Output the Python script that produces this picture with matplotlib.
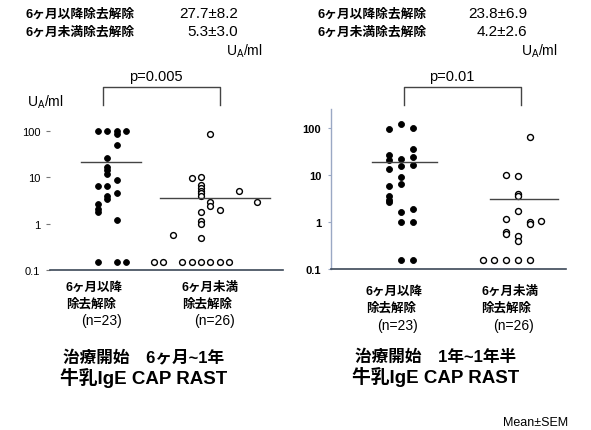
import matplotlib
matplotlib.use("Agg")
import matplotlib.pyplot as plt
from matplotlib.lines import Line2D

plt.rcParams['font.family'] = ['Liberation Sans', 'Noto Sans CJK JP', 'DejaVu Sans']

# ---------------- data ----------------
header_labels = ["6ヶ月以降除去解除", "6ヶ月未満除去解除"]
left_header_values = ["27.7±8.2", "5.3±3.0"]
right_header_values = ["23.8±6.9", "4.2±2.6"]
unit_label = "U$_{\\mathregular{A}}$/ml"
ytick_vals = [0.1, 1, 10, 100]
ytick_labels = ["0.1", "1", "10", "100"]
group_labels = ["6ヶ月以降\n除去解除", "6ヶ月未満\n除去解除"]
group_n = ["(n=23)", "(n=26)"]
left_p = "p=0.005"
right_p = "p=0.01"
left_title = ["治療開始　6ヶ月~1年", "牛乳IgE CAP RAST"]
right_title = ["治療開始　1年~1年半", "牛乳IgE CAP RAST"]
footnote = "Mean±SEM"

# left panel (6 months - 1 year)
left_filled_vals = [100, 100, 100, 100, 85, 49, 26.5, 16.5, 14, 12, 8.8, 6.5, 6.5,
                    4.5, 4.0, 3.4, 2.6, 2.1, 1.75, 1.2, 0.15, 0.15, 0.15]
left_filled_cols = [0, 1, 2, 3, 2, 2, 1, 1, 1, 1, 2, 0, 1,
                    2, 1, 1, 0, 0, 0, 2, 0, 2, 3]
left_open_vals = [84, 9.4, 10, 6.7, 5.8, 5.0, 4.5, 4.0, 5.1, 2.95, 2.4, 2.0, 2.95,
                  1.75, 1.15, 1.0, 0.57, 0.5,
                  0.15, 0.15, 0.15, 0.15, 0.15, 0.15, 0.15, 0.15]
left_open_cols = [6, 4, 5, 5, 5, 5, 5, 5, 9, 6, 6, 7, 11,
                  5, 5, 5, 2, 5,
                  0, 1, 3, 4, 5, 6, 7, 8]
left_means = [21, 3.5]

# right panel (1 year - 1.5 years)
right_filled_vals = [95, 27, 21, 13.3, 5.9, 3.5, 3.0, 2.6,
                     120, 22, 15.4, 8.9, 6.5, 1.6, 1.0, 0.155,
                     100, 35, 24, 16, 1.9, 1.0, 0.155]
right_filled_cols = [0, 0, 0, 0, 0, 0, 0, 0,
                     1, 1, 1, 1, 1, 1, 1, 1,
                     2, 2, 2, 2, 2, 2, 2]
right_open_vals = [63, 10, 9.4, 4.0, 3.5, 1.7, 1.15, 1.0, 0.9, 1.07, 0.62, 0.55, 0.51, 0.40,
                   0.155, 0.155, 0.155, 0.155, 0.155]
right_open_cols = [4, 2, 3, 3, 3, 3, 2, 4, 4, 5, 2, 2, 3, 3,
                   0, 1, 2, 3, 4]
right_means = [19, 3.1]

# ---------------- layout (pixels) ----------------
W, H = 591, 431
fig = plt.figure(figsize=(W / 100, H / 100), dpi=100)
fig.patch.set_facecolor('white')


def fx(p):
    return p / W


def fy(p):
    return 1 - p / H


def panel(x0, x1, y_bottom, decade_px, spine_left, tick_bold):
    ax = fig.add_axes([fx(x0), fy(y_bottom), (x1 - x0) / W, 3.4 * decade_px / H])
    ax.set_yscale('log')
    ax.set_ylim(0.1, 10 ** 2.4)
    ax.set_xlim(x0, x1)
    ax.set_xticks([])
    ax.set_yticks(ytick_vals)
    ax.set_yticklabels(ytick_labels, fontsize=8, fontweight='bold' if tick_bold else 'normal')
    ax.yaxis.set_minor_locator(matplotlib.ticker.NullLocator())
    for s in ['top', 'right']:
        ax.spines[s].set_visible(False)
    ax.spines['bottom'].set_color('#3c4858')
    ax.spines['bottom'].set_linewidth(1.2)
    if spine_left:
        ax.spines['left'].set_color('#9aa8c4')
        ax.spines['left'].set_linewidth(1.0)
        ax.tick_params(axis='y', length=2, width=0.8, color='#9aa8c4', pad=5)
    else:
        ax.spines['left'].set_visible(False)
        ax.tick_params(axis='y', length=3, width=0.8, color='#777777', pad=4)
    ax.patch.set_alpha(0)
    return ax


def draw_points(ax, vals, cols, base, w, filled, ms):
    xs = [base + c * w for c in cols]
    if filled:
        ax.plot(xs, vals, 'o', ms=ms, mfc='black', mec='black', mew=0.6, ls='none', clip_on=False)
    else:
        ax.plot(xs, vals, 'o', ms=ms, mfc='white', mec='black', mew=1.0, ls='none', clip_on=False)


def hline(ax, val, xa, xb):
    ax.plot([xa, xb], [val, val], color='#444444', lw=1.0)


def fig_line(xs, ys, **kw):
    fig.add_artist(Line2D([fx(x) for x in xs], [fy(y) for y in ys],
                          transform=fig.transFigure, **kw))


# ----- left panel -----
axL = panel(50, 283, 271, 46.4, False, False)
draw_points(axL, left_filled_vals, left_filled_cols, 98, 9.4, True, 4.2)
draw_points(axL, left_open_vals, left_open_cols, 154, 9.4, False, 4.2)
hline(axL, left_means[0], 81, 141)
hline(axL, left_means[1], 160, 270)

# ----- right panel -----
axR = panel(331, 566, 270, 47, True, True)
draw_points(axR, right_filled_vals, right_filled_cols, 389, 11.8, True, 4.3)
draw_points(axR, right_open_vals, right_open_cols, 482.7, 11.7, False, 4.3)
hline(axR, right_means[0], 372, 437)
hline(axR, right_means[1], 490, 558)

# ----- p brackets -----
fig_line([103, 103, 220, 220], [106, 88, 88, 106], color='#444444', lw=1.0)
fig.text(fx(156), fy(77), left_p, fontsize=10.5, ha='center', va='center')
fig_line([404, 404, 521, 521], [106, 88, 88, 106], color='#444444', lw=1.0)
fig.text(fx(452), fy(77), right_p, fontsize=10.5, ha='center', va='center')

# unit on left axis
fig.text(fx(27), fy(102), unit_label, fontsize=10, ha='left', va='center')

# ----- headers -----
hfont = dict(fontsize=9.2, fontweight='bold', va='center')
for i, yy in enumerate([14, 32]):
    fig.text(fx(26), fy(yy), header_labels[i], ha='left', **hfont)
    fig.text(fx(238), fy(yy), left_header_values[i], fontsize=11, ha='right', va='center')
    fig.text(fx(317), fy(yy), header_labels[i], ha='left', **hfont)
    fig.text(fx(527), fy(yy), right_header_values[i], fontsize=11, ha='right', va='center')
fig.text(fx(263), fy(51), unit_label, fontsize=10, ha='right', va='center')
fig.text(fx(558), fy(51), unit_label, fontsize=10, ha='right', va='center')

# ----- group labels -----
lab = dict(fontsize=9, fontweight='bold', va='top', ha='left', linespacing=1.45)
fig.text(fx(66), fy(282), group_labels[0], **lab)
fig.text(fx(182), fy(282), group_labels[1], **lab)
fig.text(fx(81), fy(314), group_n[0], fontsize=10, ha='left', va='top')
fig.text(fx(194), fy(314), group_n[1], fontsize=10, ha='left', va='top')

fig.text(fx(366), fy(286), group_labels[0], **lab)
fig.text(fx(481), fy(286), group_labels[1], **lab)
fig.text(fx(377), fy(319), group_n[0], fontsize=10, ha='left', va='top')
fig.text(fx(493), fy(319), group_n[1], fontsize=10, ha='left', va='top')

# ----- titles -----
fig.text(fx(144), fy(358), left_title[0], fontsize=12, fontweight='bold', ha='center', va='center')
fig.text(fx(144), fy(378), left_title[1], fontsize=13.5, fontweight='bold', ha='center', va='center')
fig.text(fx(436), fy(357), right_title[0], fontsize=12, fontweight='bold', ha='center', va='center')
fig.text(fx(436), fy(377), right_title[1], fontsize=13.5, fontweight='bold', ha='center', va='center')

fig.text(fx(568), fy(423), footnote, fontsize=9, ha='right', va='center')

fig.savefig('out.png', dpi=100, facecolor='white')
